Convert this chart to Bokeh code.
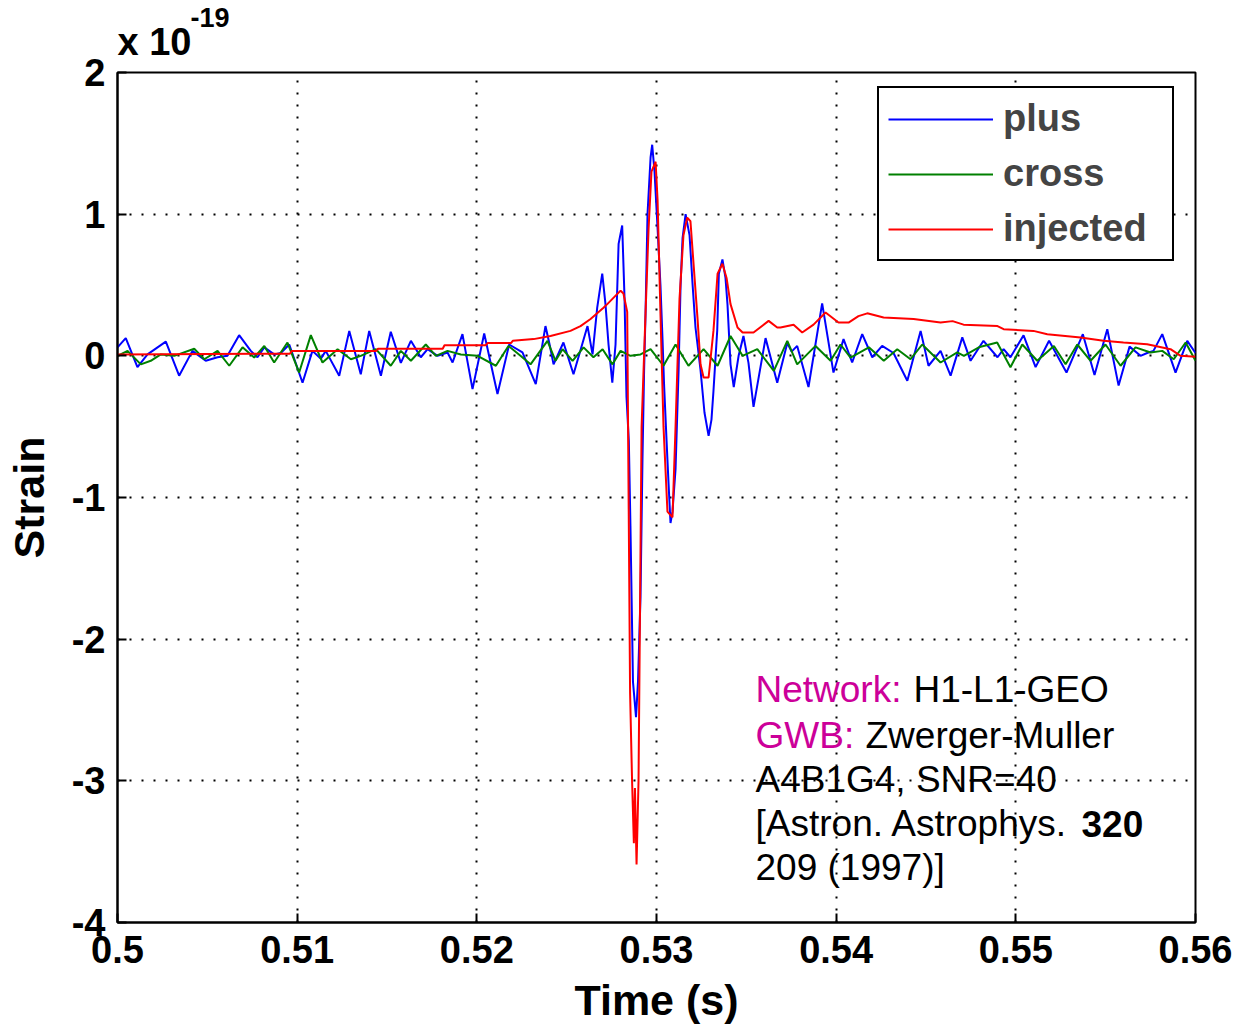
from bokeh.plotting import figure
from bokeh.models import Range1d, FixedTicker, Label, Legend, LegendItem, LinearAxis
from bokeh.embed import file_html
from bokeh.resources import INLINE

# ---------------- data (strain in units of 1e-19) ----------------
x_ticks = [0.5, 0.51, 0.52, 0.53, 0.54, 0.55, 0.56]
x_tick_labels = ["0.5", "0.51", "0.52", "0.53", "0.54", "0.55", "0.56"]
y_ticks = [-4, -3, -2, -1, 0, 1, 2]
y_tick_labels = ["-4", "-3", "-2", "-1", "0", "1", "2"]
exponent_base = "x 10"
exponent_power = "-19"

plus_t = [0.50000, 0.50046, 0.50111, 0.50167, 0.50269, 0.50343, 0.50417, 0.50491, 0.50557, 0.50612,
          0.50677, 0.50742, 0.50779, 0.50817, 0.50872, 0.50909, 0.50956, 0.51030, 0.51085, 0.51132,
          0.51159, 0.51234, 0.51290, 0.51354, 0.51401, 0.51466, 0.51521, 0.51577, 0.51633, 0.51688,
          0.51726, 0.51781, 0.51837, 0.51865, 0.51920, 0.51976, 0.52041, 0.52115, 0.52180, 0.52254,
          0.52328, 0.52382, 0.52405, 0.52427, 0.52482, 0.52538, 0.52616, 0.52644, 0.52670, 0.52698,
          0.52716, 0.52733, 0.52754, 0.52772, 0.52789, 0.52809, 0.52822, 0.52833, 0.52846, 0.52855,
          0.52869, 0.52886, 0.52897, 0.52911, 0.52922, 0.52931, 0.52939, 0.52950, 0.52967, 0.52976,
          0.52989, 0.53006, 0.53022, 0.53034, 0.53042, 0.53056, 0.53067, 0.53078, 0.53089, 0.53106,
          0.53123, 0.53134, 0.53145, 0.53162, 0.53184, 0.53201, 0.53217, 0.53245, 0.53267, 0.53290,
          0.53306, 0.53317, 0.53338, 0.53347, 0.53367, 0.53384, 0.53395, 0.53412, 0.53430, 0.53457,
          0.53484, 0.53512, 0.53540, 0.53607, 0.53672, 0.53728, 0.53752, 0.53783, 0.53846, 0.53922,
          0.53985, 0.54041, 0.54089, 0.54145, 0.54201, 0.54256, 0.54319, 0.54396, 0.54470, 0.54514,
          0.54581, 0.54637, 0.54702, 0.54748, 0.54820, 0.54898, 0.54932, 0.54970, 0.55043, 0.55110,
          0.55185, 0.55282, 0.55373, 0.55438, 0.55509, 0.55572, 0.55633, 0.55694, 0.55731, 0.55766,
          0.55815, 0.55889, 0.55954, 0.56000]
plus_y = [0.06, 0.125, -0.08, 0.01, 0.10, -0.14, 0.035, -0.035, -0.01, 0.0,
          0.146, 0.035, -0.01, 0.06, 0.01, 0.02, 0.08, -0.19, 0.035, -0.02,
          0.035, -0.14, 0.176, -0.13, 0.176, -0.14, 0.17, -0.05, 0.106, -0.01,
          0.047, 0.0, 0.024, -0.047, 0.153, -0.235, 0.158, -0.27, 0.08, 0.024,
          -0.2, 0.21, 0.08, -0.06, 0.094, -0.13, 0.21, 0.01, 0.34, 0.58,
          0.365, 0.08, -0.19, 0.08, 0.79, 0.92, 0.41, -0.29, -0.6, -1.2,
          -2.3, -2.55, -2.3, -1.7, -0.73, -0.1, 0.3, 1.0, 1.4, 1.49,
          1.3, 0.9, 0.5, 0.1, -0.2, -0.6, -0.9, -1.18, -1.1, -0.8,
          -0.1, 0.5, 0.83, 1.0, 0.85, 0.5, 0.2, -0.1, -0.4, -0.565,
          -0.45, -0.25, 0.18, 0.58, 0.68, 0.55, 0.365, -0.06, -0.22, 0.0,
          0.14, -0.05, -0.36, 0.125, -0.19, 0.09, 0.03, 0.07, -0.22, 0.37,
          -0.118, 0.118, -0.047, 0.153, -0.01, 0.07, 0.02, -0.176, 0.176, -0.07,
          0.035, -0.14, 0.13, -0.035, 0.106, -0.01, 0.047, -0.01, 0.145, -0.08,
          0.106, -0.118, 0.153, -0.135, 0.188, -0.21, 0.065, 0.0, 0.02, 0.035,
          0.153, -0.118, 0.106, 0.02]

cross_t = [0.50000, 0.50056, 0.50130, 0.50185, 0.50241, 0.50316, 0.50427, 0.50483, 0.50557, 0.50622,
           0.50696, 0.50761, 0.50817, 0.50872, 0.50946, 0.51011, 0.51076, 0.51141, 0.51225, 0.51299,
           0.51354, 0.51438, 0.51521, 0.51577, 0.51633, 0.51716, 0.51772, 0.51837, 0.51911, 0.52004,
           0.52106, 0.52176, 0.52243, 0.52299, 0.52393, 0.52438, 0.52477, 0.52533, 0.52594, 0.52649,
           0.52700, 0.52755, 0.52800, 0.52855, 0.52911, 0.52967, 0.53039, 0.53106, 0.53178, 0.53262,
           0.53340, 0.53412, 0.53479, 0.53561, 0.53653, 0.53728, 0.53783, 0.53885, 0.53969, 0.54024,
           0.54080, 0.54182, 0.54265, 0.54340, 0.54414, 0.54479, 0.54581, 0.54674, 0.54711, 0.54794,
           0.54896, 0.54970, 0.55036, 0.55119, 0.55212, 0.55277, 0.55342, 0.55416, 0.55499, 0.55583,
           0.55666, 0.55750, 0.55815, 0.55879, 0.55945, 0.56000]
cross_y = [0.0, 0.035, -0.06, -0.035, 0.01, 0.0, 0.05, -0.024, 0.035, -0.07,
           0.06, -0.012, 0.07, -0.047, 0.094, -0.118, 0.146, -0.047, 0.047, -0.024,
           0.0, 0.047, -0.07, 0.035, -0.035, 0.08, 0.0, 0.035, 0.01, 0.0,
           -0.07, 0.07, 0.0, -0.06, 0.106, -0.035, 0.047, -0.035, 0.06, -0.01,
           0.047, -0.06, 0.035, 0.0, 0.01, 0.047, -0.07, 0.08, -0.07, 0.047,
           -0.07, 0.14, 0.0, 0.047, -0.106, 0.106, -0.06, 0.07, -0.035, 0.08,
           -0.012, 0.06, -0.035, 0.047, -0.024, 0.08, -0.047, 0.024, 0.0, 0.06,
           0.094, -0.08, 0.08, -0.035, 0.07, -0.06, 0.08, -0.035, 0.08, -0.07,
           0.06, 0.024, 0.035, -0.024, 0.094, -0.035]

inj_t = [0.50000, 0.50960, 0.50970, 0.51440, 0.51450, 0.51810, 0.51820, 0.52050, 0.52060, 0.52190,
         0.52200, 0.52316, 0.52410, 0.52521, 0.52577, 0.52633, 0.52705, 0.52726, 0.52800, 0.52816,
         0.52837, 0.52853, 0.52864, 0.52874, 0.52880, 0.52889, 0.52900, 0.52917, 0.52939, 0.52956,
         0.52972, 0.52995, 0.53006, 0.53022, 0.53039, 0.53061, 0.53089, 0.53106, 0.53128, 0.53150,
         0.53171, 0.53189, 0.53201, 0.53228, 0.53245, 0.53262, 0.53290, 0.53317, 0.53340, 0.53367,
         0.53390, 0.53412, 0.53451, 0.53479, 0.53540, 0.53624, 0.53672, 0.53690, 0.53763, 0.53811,
         0.53874, 0.53941, 0.54013, 0.54069, 0.54124, 0.54173, 0.54264, 0.54431, 0.54581, 0.54648,
         0.54709, 0.54898, 0.54932, 0.55098, 0.55175, 0.55360, 0.55488, 0.55599, 0.55731, 0.55861,
         0.55917, 0.56000]
inj_y = [0.01, 0.015, 0.035, 0.035, 0.05, 0.05, 0.075, 0.075, 0.09, 0.09,
         0.106, 0.118, 0.14, 0.176, 0.21, 0.26, 0.34, 0.365, 0.46, 0.44,
         0.31, -2.38, -3.0, -3.44, -3.05, -3.59, -3.0, -0.5, 0.3, 0.9,
         1.3, 1.37, 1.1, 0.3, -0.5, -1.1, -1.14, -0.5, 0.4, 0.85,
         0.976, 0.95, 0.74, 0.27, -0.06, -0.153, -0.153, 0.176, 0.58, 0.65,
         0.55, 0.365, 0.2, 0.165, 0.165, 0.247, 0.2, 0.2, 0.22, 0.165,
         0.22, 0.306, 0.235, 0.235, 0.28, 0.30, 0.27, 0.26, 0.235, 0.245,
         0.22, 0.21, 0.188, 0.176, 0.153, 0.13, 0.106, 0.094, 0.082, 0.047,
         0.0, -0.007]

series_names = ["plus", "cross", "injected"]

# ---------------- figure ----------------
FONT = "Liberation Sans"

p = figure(frame_width=1078, frame_height=850,
           x_range=Range1d(0.5, 0.56), y_range=Range1d(-4, 2),
           output_backend="svg", toolbar_location=None,
           min_border_left=117, min_border_right=40,
           min_border_top=72, min_border_bottom=105,
           background_fill_color="white", border_fill_color="white")

p.outline_line_color = "black"
p.outline_line_width = 2

for ax, ticks, labels in [(p.xaxis[0], x_ticks, x_tick_labels), (p.yaxis[0], y_ticks, y_tick_labels)]:
    ax.ticker = FixedTicker(ticks=ticks)
    ax.major_label_overrides = {t: l for t, l in zip(ticks, labels)}
    ax.major_tick_in = 9
    ax.major_tick_out = 0
    ax.major_tick_line_width = 2
    ax.minor_tick_line_color = None
    ax.axis_line_width = 2
    ax.axis_line_color = "black"
    ax.major_label_text_font = FONT
    ax.major_label_text_font_style = "bold"
    ax.major_label_text_font_size = "38px"
    ax.major_label_text_color = "black"
    ax.axis_label_text_font = FONT
    ax.axis_label_text_font_style = "bold"
    ax.axis_label_text_font_size = "43px"
    ax.axis_label_text_color = "black"

p.xaxis.axis_label = "Time (s)"
p.yaxis.axis_label = "Strain"
p.xaxis.major_label_standoff = 13
p.xaxis.axis_label_standoff = 10
p.yaxis.major_label_standoff = 12
p.yaxis.axis_label_standoff = 16

# scale factor "x 10^-19" above the top-left corner (label-only axes)
exp_pos = [0.50206, 0.50515]   # tick anchors (time units) for the two parts
for pos, txt, size, standoff in [(exp_pos[0], exponent_base, "38px", 10),
                                 (exp_pos[1], exponent_power, "27px", -9)]:
    ax_e = LinearAxis(ticker=FixedTicker(ticks=[pos]),
                      major_label_overrides={pos: txt},
                      major_tick_in=0, major_tick_out=0,
                      major_tick_line_color=None, minor_tick_line_color=None,
                      axis_line_color=None, major_label_standoff=standoff,
                      major_label_text_font=FONT, major_label_text_font_style="bold",
                      major_label_text_font_size=size, major_label_text_color="black")
    p.add_layout(ax_e, "above")

p.xgrid.grid_line_color = "black"
p.ygrid.grid_line_color = "black"
p.xgrid.grid_line_dash = "2 10"
p.ygrid.grid_line_dash = "2 10"
p.xgrid.grid_line_width = 2
p.ygrid.grid_line_width = 2

r_plus = p.line(plus_t, plus_y, line_color="#0000FF", line_width=2)
r_cross = p.line(cross_t, cross_y, line_color="#008000", line_width=2)
r_inj = p.line(inj_t, inj_y, line_color="#FF0000", line_width=2)

legend = Legend(items=[LegendItem(label=series_names[0], renderers=[r_plus]),
                       LegendItem(label=series_names[1], renderers=[r_cross]),
                       LegendItem(label=series_names[2], renderers=[r_inj])],
                location=(760, 661))
legend.label_text_font = FONT
legend.label_text_font_style = "bold"
legend.label_text_font_size = "38px"
legend.glyph_width = 105
legend.glyph_height = 40
legend.label_height = 40
legend.label_width = 160
legend.label_standoff = 10
legend.spacing = 12
legend.padding = 9
legend.margin = 0
legend.border_line_color = "black"
legend.border_line_alpha = 1
legend.border_line_width = 2
legend.background_fill_color = "white"
legend.background_fill_alpha = 1
p.add_layout(legend)

# annotation block
MAG = "#CC0099"
TX = 0.53551
lines = [
    (-2.358, [("Network:", MAG, "normal", 0), ("H1-L1-GEO", "black", "normal", 158)]),
    (-2.682, [("GWB:", MAG, "normal", 0), ("Zwerger-Muller", "black", "normal", 110)]),
    (-2.993, [("A4B1G4, SNR=40", "black", "normal", 0)]),
    (-3.303, [("[Astron. Astrophys.", "black", "normal", 0), ("320", "black", "bold", 326)]),
    (-3.614, [("209 (1997)]", "black", "normal", 0)]),
]
for yy, segs in lines:
    for txt, col, style, off in segs:
        p.add_layout(Label(x=TX, y=yy, x_offset=off, text=txt, text_color=col,
                           text_font=FONT, text_font_style=style, text_font_size="37px",
                           text_baseline="middle", text_align="left"))

open("out.html", "w").write(file_html(p, INLINE))
